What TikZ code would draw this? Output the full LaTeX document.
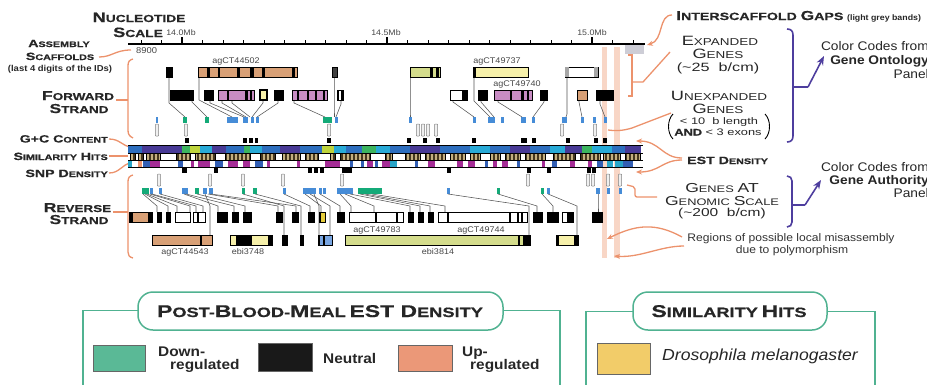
\documentclass[tikz,border=0pt]{standalone}
\usepackage{fontspec}
\setmainfont{Liberation Sans}
\newfontfamily\hf[FakeStretch=1.35,BoldFeatures={FakeBold=0.6}]{Liberation Sans}
\newfontfamily\rf[FakeStretch=1.1]{Liberation Sans}
\usetikzlibrary{arrows.meta}
\newcommand\ksc[4]{{\fontsize{#1}{#1}\selectfont #3}{\fontsize{#2}{#2}\selectfont #4}}
\newcommand\fz[1]{\fontsize{#1}{#1}\selectfont}
\definecolor{org}{RGB}{236,146,108}
\definecolor{tanG}{RGB}{216,160,118}
\definecolor{pinkG}{RGB}{200,140,195}
\definecolor{yelG}{RGB}{246,240,170}
\definecolor{yelS}{RGB}{230,205,60}
\definecolor{lgrn}{RGB}{212,220,140}
\definecolor{lblu}{RGB}{120,165,225}
\definecolor{mblue}{RGB}{70,140,215}
\definecolor{mgrn}{RGB}{20,170,120}
\definecolor{bandP}{RGB}{248,214,198}
\definecolor{gapG}{RGB}{205,205,214}
\definecolor{brk}{RGB}{78,62,158}
\definecolor{legT}{RGB}{80,178,145}
\definecolor{swT}{RGB}{90,185,150}
\definecolor{swO}{RGB}{235,152,120}
\definecolor{swY}{RGB}{242,204,105}
\definecolor{gcN}{RGB}{72,58,150}
\definecolor{gcB}{RGB}{45,110,190}
\definecolor{gcC}{RGB}{40,170,215}
\definecolor{gcG}{RGB}{60,180,95}
\definecolor{gcL}{RGB}{190,212,60}
\definecolor{simT}{RGB}{196,176,128}
\definecolor{simD}{RGB}{70,55,30}
\definecolor{snpM}{RGB}{165,45,150}
\definecolor{snpB}{RGB}{50,95,180}
\definecolor{snpC}{RGB}{40,165,200}
\definecolor{cnC}{RGB}{85,85,85}
\definecolor{txtG}{RGB}{70,70,70}
\def\simlist{130/135,138/143,146/160,176/190,195/215,225/250,260/275,282/300,305/318,330/335,340/370,385/392,405/420,425/445,450/465,470/480,490/500,505/520,525/545,553/575,580/600,603/620,625/640}
\begin{document}
\begin{tikzpicture}[x=1pt,y=-1pt,
  gb/.style={draw=black,line width=0.7pt},
  cn/.style={draw=cnC,line width=0.55pt},
  orl/.style={draw=org,line width=1.3pt},
  bk/.style={draw=brk,line width=1.6pt},
  ub/.style={draw=gray,fill=gray!12,line width=0.5pt,rounded corners=0.8pt},
  lbl/.style={inner sep=0,font=\hf\bfseries,text=black!85},
  lblr/.style={inner sep=0,font=\hf,text=black!85},
  sm/.style={inner sep=0,font=\rf,text=txtG},
  oarr/.style={orl,-{Stealth[length=6pt,width=5pt]}},
  barr/.style={bk,-{Stealth[length=9pt,width=7pt]}}]
\useasboundingbox (0,0) rectangle (927,384);
% background bands
\fill[bandP] (602,47) rectangle (607,258);
\fill[bandP] (614,47) rectangle (620,258);
\fill[gapG] (625,45) rectangle (644,54);
% axis
\draw[line width=1.8pt] (128,44) -- (645,44);
\foreach \t in {0,...,24} \draw[line width=0.7pt] ({141+20.5*\t},44) -- ++(0,-4);
\foreach \t in {182,387,592} \draw[line width=2pt] (\t,44) -- (\t,37);
\node[sm,anchor=base] at (181,35) {\fz{8}14.0Mb};
\node[sm,anchor=base] at (386,35) {\fz{8}14.5Mb};
\node[sm,anchor=base] at (592,35) {\fz{8}15.0Mb};
% left labels
\node[lbl,anchor=base] at (139,22) {\ksc{13.5}{10.2}{N}{UCLEOTIDE}};
\node[lbl,anchor=base east] at (163,37) {\ksc{13.5}{10.2}{S}{CALE}};
\node[lbl,anchor=base] at (59,47) {\ksc{10.5}{8}{A}{SSEMBLY}};
\node[lbl,anchor=base] at (60,60) {\ksc{10.5}{8}{S}{CAFFOLDS}};
\node[sm,anchor=base,text=black!85] at (60,71) {\rf\bfseries\fz{8.6}(last 4 digits of the IDs)};
\node[lbl,anchor=base] at (78,100) {\ksc{13}{10}{F}{ORWARD}};
\node[lbl,anchor=base] at (79,113) {\ksc{13}{10}{S}{TRAND}};
\node[lbl,anchor=base east] at (108,142.5) {\ksc{10.5}{8}{G+C C}{ONTENT}};
\node[lbl,anchor=base east] at (108,160) {\ksc{10.5}{8}{S}{IMILARITY} \ksc{10.5}{8}{H}{ITS}};
\node[lbl,anchor=base east] at (108,177) {\ksc{10.5}{8}{SNP D}{ENSITY}};
\node[lbl,anchor=base] at (77.5,212) {\ksc{13}{10}{R}{EVERSE}};
\node[lbl,anchor=base] at (79,224) {\ksc{13}{10}{S}{TRAND}};
\node[sm,anchor=base west] at (136,53) {\fz{8.5}8900};
% left orange connectors
\draw[orl] (99,57) .. controls (112,57) and (115,50) .. (131,50);
\draw[orl] (133,59) .. controls (129,60) and (128,62) .. (128,66) -- (128,130) .. controls (128,134) and (129,136) .. (133,138);
\draw[orl] (116,100) -- (128,100);
\draw[orl] (109,139) .. controls (120,139) and (122,146) .. (131,147);
\draw[orl] (109,156) -- (131,156);
\draw[orl] (109,173) .. controls (120,173) and (122,164) .. (131,163);
\draw[orl] (133,175) .. controls (129,176) and (128,178) .. (128,182) -- (128,252) .. controls (128,255) and (129,257) .. (133,258);
\draw[orl] (113,212) -- (128,212);
% band rows
\foreach \a/\b/\c in {128/142/gcB,142/182/gcN,182/190/gcG,190/200/gcL,200/212/gcC,212/226/gcN,226/244/gcB,244/250/gcG,250/262/gcC,262/280/gcB,280/300/gcN,300/322/gcB,322/334/gcL,334/346/gcC,346/362/gcB,362/376/gcG,376/390/gcC,390/410/gcB,410/440/gcN,440/470/gcB,470/490/gcC,490/510/gcB,510/530/gcN,530/550/gcB,550/565/gcC,565/582/gcN,582/592/gcG,592/612/gcC,612/625/gcB,625/641/gcN}
  \fill[\c] (\a,145.5) rectangle (\b,152.5);
\fill[white] (128,153) rectangle (643,160);
\begin{scope}
\clip \foreach \a/\b in \simlist {(\a,153) rectangle (\b,159.8)};
\fill[simT] (128,153) rectangle (643,160);
\foreach \x in {129,133,...,641} \fill[simD] (\x,153) rectangle ++(1.6,7);
\end{scope}
\foreach \a/\b in \simlist \draw[line width=0.5pt] (\a,153) rectangle (\b,159.8);
\foreach \a/\b/\c in {128/132/snpC,138/142/org,143/150/snpB,150/160/snpM,178/183/snpB,191/194/snpM,198/210/snpM,215/223/snpB,228/238/snpM,243/250/snpM,255/263/snpB,267/270/snpM,297/300/snpM,325/340/snpM,350/353/snpB,361/364/snpB,367/373/snpM,375/378/snpB,382/390/snpM,390/397/snpC,415/418/snpB,428/435/snpM,457/463/snpM,468/475/snpM,485/488/snpB,493/497/snpM,502/508/snpM,517/520/snpB,542/545/snpM,552/557/snpB,570/575/snpM,588/592/snpM,597/603/snpB,607/613/snpC,615/623/snpC,623/633/snpB}
  \fill[\c] (\a,160.5) rectangle (\b,166.5);
\foreach \y in {145.3,152.8,160.2,166.8} \draw[line width=0.5pt] (128,\y) -- (643,\y);
% EST density marks
\foreach \x/\w in {185/3.5,243/3.5,249/3.5,255/3,327/3.5,407/3.5,423/3.5,436/3.5,472/3.5,521/6,532/3.5,566/3.5,594/3.5,603/3.5}
  \fill (\x,137.5) rectangle ++(\w,5.5);
\foreach \x/\w in {182/5,214/3.5,308/4,314/3.5,320/3.5,342/10,447/3.5,527/3.5,547/3.5,587/3.5,592/3.5}
  \fill (\x,167.5) rectangle ++(\w,5.5);
% unexpanded genes
\foreach \x in {157,186,329,418,423,428,436,562,595} \filldraw[ub] (\x-1.7,124) rectangle (\x+1.7,136);
\foreach \x in {159,210,243,283,342,528,588,593,608,620} \filldraw[ub] (\x-1.7,174) rectangle (\x+1.7,186);
% genomic scale marks
\foreach \a/\b/\c in {156/158/mblue,183/187/mgrn,205/209/mgrn,227/238/mblue,243/248/mblue,251/253.5/mblue,256/258.5/mblue,323/332/mgrn,335/337.5/mblue,409/411.5/mblue,473/475.5/mblue,488/495/mblue,501/503.5/mblue,521/526/mblue,532/534.5/mblue,562/567/mblue,581/583.5/mblue,593/595.5/mblue,604/606.5/mblue}
  \fill[\c] (\a,117) rectangle (\b,123);
\foreach \a/\b/\c in {142/149/mgrn,149.5/153/mblue,159/161.5/mblue,182/188/mblue,195/199/mgrn,203/207/mblue,208.5/213/mblue,242/244.5/mgrn,253/257/mgrn,283/285.5/mblue,303/316/mblue,319/321.5/mblue,323/325.5/mblue,337/353/mblue,358/382/mgrn,447/449.5/mblue,497/499.5/mgrn,541/543.5/mgrn,547/549.5/mblue,596/600/mblue,607/609.5/mblue,619/621.5/mblue}
  \fill[\c] (\a,188) rectangle (\b,194);
% forward connectors
\foreach \a/\b/\c/\d in {169/77/103/185,192/100/102/207,199/77/100/232,210/100/103/244,222/100/103/246,232/100/103/250,263/100/103/252,278/100/103/257,294/100/103/325,334/77/110/334,341/100/104/336,410/77/114/410,453/100/102/474,474/77/101/490,481/100/102/494,498/100/102/522,544/100/102/533,567/77/114/566,579/100/102/582,600/100/104/605}
  \draw[cn] (\a,\b) -- (\a,\c) -- (\d,117);
% reverse connectors
\foreach \a/\b/\c in {143/157/212,145/168/212,147/177/212,150/190/212,152/196/212,160/203/212,184/218/212,186/234/212,197/245/212,205/210/235,208/278/212,211/296/212,243/284/235,255/301/235,284/310/212,305/321/212,310/330/235,314/319/235,320/340/212,340/351/212,345/374/212,350/410/212,360/420/212,365/430/212,372/445/212,448/529/235,498/537/212,542/553/212,548/577/235,598/598/212}
  \draw[cn] (\a,194) -- (\b,206) -- (\b,\c);
% forward row 1
\filldraw[gb,fill=black] (166,67) rectangle (172,77);
\filldraw[gb,fill=tanG] (198,67) rectangle (297,77);
\foreach \s/\w in {207/3,218/2,237/3,250/4,262/3,292/3} \fill (\s,67) rectangle ++(\w,10);
\filldraw[gb,fill=gray!50!black] (332,67) rectangle (337,77);
\filldraw[gb,fill=lgrn] (410,67) rectangle (440,77);
\foreach \s/\w in {430/2.5,436/3} \fill (\s,67) rectangle ++(\w,10);
\filldraw[gb,fill=yelG] (473,67) rectangle (528,77);
\fill (473,67) rectangle ++(3,10);
\filldraw[gb,fill=white] (565,67) rectangle (598,77);
\foreach \s/\w in {565/3.5,594/4} \fill[gray!70] (\s,67.4) rectangle ++(\w,9.2);
% forward row 2
\filldraw[gb,fill=black] (170,90) rectangle (193,100);
\filldraw[gb,fill=black] (204,90) rectangle (213,100);
\filldraw[gb,fill=pinkG] (218,90) rectangle (254,100);
\foreach \s/\w in {227/2,245/2.5,250/2} \fill (\s,90) rectangle ++(\w,10);
\filldraw[gb,fill=yelG,line width=1.2pt] (260,90) rectangle (267,100);
\filldraw[gb,fill=black] (274,90) rectangle (283,100);
\filldraw[gb,fill=pinkG] (292,90) rectangle (327,100);
\foreach \s/\w in {297/2,307/2,315/2,323/2} \fill (\s,90) rectangle ++(\w,10);
\filldraw[gb,fill=white] (337,90) rectangle (343,100);
\foreach \s/\w in {337/2,341/2} \fill (\s,90) rectangle ++(\w,10);
\filldraw[gb,fill=white] (450,90) rectangle (467,100);
\fill (462,90) rectangle ++(5,10);
\filldraw[gb,fill=black] (478,90) rectangle (487,100);
\filldraw[gb,fill=pinkG] (494,90) rectangle (532,100);
\foreach \s/\w in {510/2,521/3,527/2} \fill (\s,90) rectangle ++(\w,10);
\filldraw[gb,fill=black] (540,90) rectangle (547,100);
\filldraw[gb,fill=tanG] (577,90) rectangle (587,100);
\filldraw[gb,fill=black] (596,90) rectangle (613,100);
% reverse row 1
\filldraw[gb,fill=tanG] (129,212) rectangle (152,222);
\foreach \s/\w in {129/4,148/4} \fill (\s,212) rectangle ++(\w,10);
\foreach \a/\b in {157/161,166/170,217/227,232/238,243/251,276/282,292/298,308/314,337/344,408/413,418/423,428/433,533/542,547/558,592/602}
  \filldraw[gb,fill=black] (\a,212) rectangle (\b,222);
\filldraw[gb,fill=white] (175,212) rectangle (190,222);
\filldraw[gb,fill=white] (193,212) rectangle (205,222);
\fill (197,212) rectangle ++(1.5,10);
\filldraw[gb,fill=yelS] (319,212) rectangle (325,222);
\fill (319,212) rectangle ++(2,10);
\filldraw[gb,fill=white] (349,212) rectangle (403,222);
\foreach \s in {375,396} \fill (\s,212) rectangle ++(1.5,10);
\filldraw[gb,fill=white] (438,212) rectangle (527,222);
\foreach \s in {447,509,517,521} \fill (\s,212) rectangle ++(1.5,10);
\filldraw[gb,fill=white] (562,212) rectangle (573,222);
\fill (567,212) rectangle ++(6,10);
% reverse row 2
\filldraw[gb,fill=tanG] (152,235) rectangle (212,245);
\fill (200,235) rectangle ++(1.5,10);
\filldraw[gb,fill=yelG] (230,235) rectangle (272,245);
\foreach \s/\w in {236/16,268/4} \fill (\s,235) rectangle ++(\w,10);
\filldraw[gb,fill=black] (282,235) rectangle (287,245);
\filldraw[gb,fill=black] (300,235) rectangle (303,245);
\filldraw[gb,fill=lblu] (318,235) rectangle (332,245);
\foreach \s in {318,323} \fill (\s,235) rectangle ++(2,10);
\filldraw[gb,fill=lgrn] (345,235) rectangle (530,245);
\foreach \s/\w in {518/1.5,523/7} \fill (\s,235) rectangle ++(\w,10);
\filldraw[gb,fill=yelG] (556,235) rectangle (578,245);
\foreach \s/\w in {556/3,574/4} \fill (\s,235) rectangle ++(\w,10);
% gene labels
\node[sm,anchor=base] at (236,63.5) {\fz{8.2}agCT44502};
\node[sm,anchor=base] at (497,63.5) {\fz{8.2}agCT49737};
\node[sm,anchor=base] at (517,86) {\fz{8.2}agCT49740};
\node[sm,anchor=base] at (185,254) {\fz{8.2}agCT44543};
\node[sm,anchor=base] at (248,254) {\fz{8.2}ebi3748};
\node[sm,anchor=base] at (377,232) {\fz{8.2}agCT49783};
\node[sm,anchor=base] at (481,232) {\fz{8.2}agCT49744};
\node[sm,anchor=base] at (438,254) {\fz{8.2}ebi3814};
% right annotations
\node[lbl,anchor=base west] at (676,20) {\ksc{13}{10.5}{I}{NTERSCAFFOLD} \ksc{13}{10.5}{G}{APS} {\rf\bfseries\fz{8}(light grey bands)}};
\draw[oarr] (672,15) .. controls (658,15) and (664,40) .. (647,45);
\node[lblr,anchor=base] at (720,45) {\ksc{13.5}{10}{E}{XPANDED}};
\node[lblr,anchor=base] at (718,58.5) {\ksc{13.5}{10}{G}{ENES}};
\node[lblr,anchor=base] at (718,71.5) {\fz{12}(\textasciitilde25\ \ b/cm)};
\draw[orl] (628,55) -- (632,55) -- (632,96) -- (628,96);
\draw[orl] (632,82) -- (643,82) -- (670,52);
\node[lblr,anchor=base] at (719,100) {\ksc{13.5}{10}{U}{NEXPANDED}};
\node[lblr,anchor=base] at (718,113) {\ksc{13.5}{10}{G}{ENES}};
\node[lblr,anchor=base] at (719,124) {\fz{9.5}< 10\ \ b length};
\node[lblr,anchor=base] at (718,135.5) {\fz{9.5}{\bfseries AND} < 3 exons};
\draw[line width=0.9pt] (673,114) .. controls (667,120) and (667,133) .. (673,139);
\draw[line width=0.9pt] (765,114) .. controls (771,120) and (771,133) .. (765,139);
\draw[orl] (671,113) -- (632,128) .. controls (622,131) and (615,131) .. (608,130);
\node[lbl,anchor=base west] at (687,164) {\ksc{10.5}{8}{EST D}{ENSITY}};
\draw[oarr] (682,158) .. controls (662,158) and (660,141) .. (636,141);
\draw[oarr] (682,160) .. controls (662,160) and (660,172) .. (636,172);
\node[lblr,anchor=base] at (722,192) {\ksc{13}{9.5}{G}{ENES} \ksc{13}{9.5}{AT}{}};
\node[lblr,anchor=base] at (722,205) {\ksc{13}{9.5}{G}{ENOMIC} \ksc{13}{9.5}{S}{CALE}};
\node[lblr,anchor=base] at (722,216.5) {\fz{11.5}(\textasciitilde200\ \ b/cm)};
\draw[orl,rounded corners=2pt] (627,185) -- (635,187) -- (635,197) -- (657,197);
\node[sm,anchor=base,text=black!80] at (791,241) {\fz{11}Regions of possible local misassembly};
\node[sm,anchor=base,text=black!80] at (792,253) {\fz{11}due to polymorphism};
\draw[oarr] (682,237) .. controls (655,222) and (635,225) .. (607,239);
\draw[oarr] (684,246) .. controls (660,246) and (640,258) .. (614,256);
% blue brackets
\draw[bk] (787,29) .. controls (791,29) and (793,31) .. (793,35) -- (793,136) .. controls (793,140) and (791,142) .. (787,142);
\draw[bk] (793,87) -- (808,87);
\draw[barr] (808,87) -- (824,56);
\node[sm,anchor=base east,text=black!85] at (929,50) {\fz{12.5}Color Codes from};
\node[sm,anchor=base east,text=black!85] at (929,64) {\fz{12.5}\bfseries Gene Ontology};
\node[sm,anchor=base east,text=black!85] at (929,78) {\fz{12.5}Panel};
\draw[bk] (787,176) .. controls (790,176) and (792,178) .. (792,181) -- (792,222) .. controls (792,225) and (790,227) .. (787,227);
\draw[bk] (792,205) -- (805,205);
\draw[barr] (805,205) -- (821,180);
\node[sm,anchor=base east,text=black!85] at (929,171) {\fz{12.5}Color Codes from};
\node[sm,anchor=base east,text=black!85] at (929,184) {\fz{12.5}\bfseries Gene Authority};
\node[sm,anchor=base east,text=black!85] at (929,197) {\fz{12.5}Panel};
% legend 1
\draw[legT,line width=1.5pt] (83,400) -- (83,310.5) -- (560,310.5) -- (560,400);
\filldraw[legT,fill=white,line width=1.5pt,rounded corners=15pt] (138,292) rectangle (503,330);
\node[lbl,anchor=base] at (320,317) {\ksc{17}{13.5}{P}{OST-}\ksc{17}{13.5}{B}{LOOD-}\ksc{17}{13.5}{M}{EAL} \ksc{17}{13.5}{EST D}{ENSITY}};
\filldraw[fill=swT,draw=black!60,line width=0.7pt] (93,345) rectangle (145,371);
\filldraw[fill=black!90,draw=black!60,line width=0.7pt] (258,343.5) rectangle (312,371);
\filldraw[fill=swO,draw=black!60,line width=0.7pt] (398,345) rectangle (452,371);
\node[sm,anchor=base west,text=black!85] at (158,356) {\rf\bfseries\fz{14}Down-};
\node[sm,anchor=base west,text=black!85] at (170,369) {\rf\bfseries\fz{14}regulated};
\node[sm,anchor=base west,text=black!85] at (323,363) {\rf\bfseries\fz{14}Neutral};
\node[sm,anchor=base west,text=black!85] at (462,356) {\rf\bfseries\fz{14}Up-};
\node[sm,anchor=base west,text=black!85] at (470,369) {\rf\bfseries\fz{14}regulated};
% legend 2
\draw[legT,line width=1.5pt] (586,400) -- (586,311.5) -- (875,311.5) -- (875,400);
\filldraw[legT,fill=white,line width=1.5pt,rounded corners=15pt] (633,292) rectangle (827,330);
\node[lbl,anchor=base] at (729,317) {\ksc{17}{13.5}{S}{IMILARITY} \ksc{17}{13.5}{H}{ITS}};
\filldraw[fill=swY,draw=black!60,line width=0.7pt] (597,343.5) rectangle (650,374);
\node[sm,anchor=base west,text=black!85] at (662,360) {\rf\itshape\fz{16}Drosophila melanogaster};
\end{tikzpicture}
\end{document}
